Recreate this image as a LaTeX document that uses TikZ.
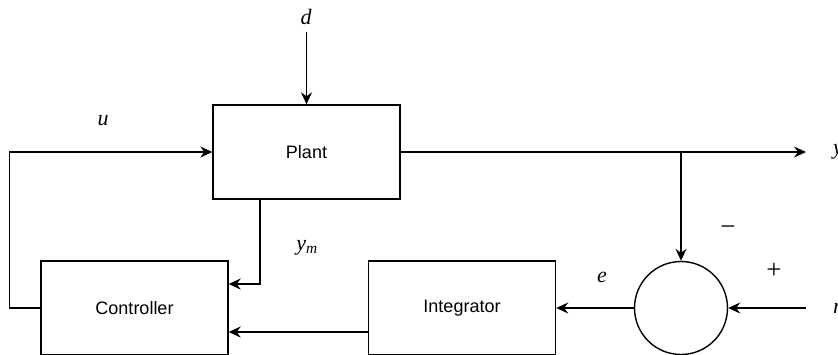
\documentclass[tikz,border=0pt]{standalone}
\usepackage{fontspec}
\setmainfont{Liberation Serif}
\newfontfamily\blockfont{Liberation Sans}
\usetikzlibrary{arrows.meta,positioning}

\begin{document}
\begin{tikzpicture}[x=1pt,y=-1pt,line width=1.4pt,
    >={Stealth[length=12pt,width=11pt,inset=4pt]},
    block/.style={draw,minimum width=187pt,minimum height=94pt,inner sep=0pt,
        font=\blockfont\fontsize{18}{21}\selectfont},
    sumnode/.style={draw,circle,minimum size=93pt,inner sep=0pt},
    sig/.style={font=\fontsize{22}{24}\selectfont\itshape},
    signlbl/.style={font=\fontsize{27}{29}\selectfont}]
    \useasboundingbox (0,0) rectangle (838,354);
    % blocks
    \node [block] (plant) at (306.5,152) {Plant};
    \node [block] (ctrl) at (134.5,308) {Controller};
    \node [block] (integ) at (462,308) {Integrator};
    \node [sumnode] (sum) at (681,308) {};
    % free ends
    \coordinate (dtop) at (306.5,32);
    \coordinate (yout) at (806,152);
    \coordinate (rin) at (806,308);
    \coordinate (br) at (681,152);
    % signals
    \draw [->] (dtop) -- (plant.north);
    \draw [->] (ctrl.west) -- ++(-31,0) |- (plant.west);
    \draw [->] (plant.east) -- (yout);
    \draw [->] (br) -- (sum.north);
    \draw [->] (rin) -- (sum.east);
    \draw [->] (sum.west) -- (integ.east);
    \draw [->] (integ.west |- 0,332) -- (ctrl.east |- 0,332);
    \draw [->] ([xshift=-46.5pt]plant.south) |- ([yshift=24pt]ctrl.east);
    % labels
    \node [sig] (dlbl) at (306,17) {d};
    \node [sig] (ulbl) at (103,121) {u};
    \node [sig] (ymlbl) at (307,248) {y\textsubscript{m}};
    \node [sig] (elbl) at (602,277) {e};
    \node [sig,anchor=west] (ylbl) at (829,152) {y};
    \node [sig,anchor=west] (rlbl) at (829,308) {r};
    \node [signlbl] (minus) at (728,231) {\char"2212};
    \node [signlbl] (plus) at (774,271) {+};
\end{tikzpicture}
\end{document}
